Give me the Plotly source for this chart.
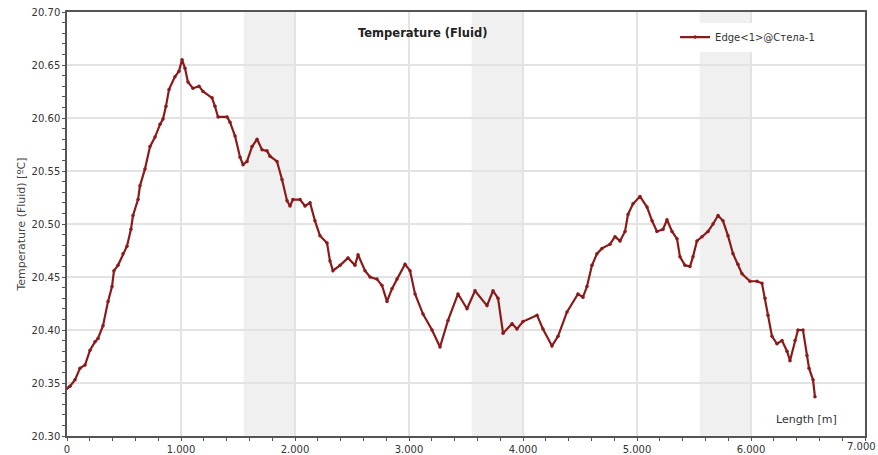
import plotly.graph_objects as go

# Data
length_m = [0.000, 0.026, 0.070, 0.114, 0.158, 0.202, 0.246, 0.272, 0.316, 0.360,
            0.395, 0.412, 0.447, 0.491, 0.526, 0.561, 0.579, 0.623, 0.640, 0.684,
            0.728, 0.772, 0.816, 0.842, 0.868, 0.895, 0.947, 0.982, 1.009, 1.035,
            1.061, 1.105, 1.158, 1.193, 1.272, 1.298, 1.325, 1.404, 1.430, 1.474,
            1.518, 1.544, 1.579, 1.623, 1.667, 1.711, 1.754, 1.781, 1.842, 1.886,
            1.930, 1.956, 1.982, 2.044, 2.088, 2.132, 2.175, 2.219, 2.281, 2.307,
            2.333, 2.395, 2.465, 2.526, 2.553, 2.614, 2.658, 2.719, 2.763, 2.807,
            2.851, 2.895, 2.965, 3.009, 3.053, 3.123, 3.202, 3.272, 3.342, 3.430,
            3.509, 3.579, 3.684, 3.737, 3.781, 3.825, 3.904, 3.947, 4.000, 4.123,
            4.175, 4.254, 4.307, 4.386, 4.482, 4.526, 4.561, 4.605, 4.649, 4.693,
            4.763, 4.807, 4.851, 4.895, 4.921, 4.965, 5.026, 5.088, 5.132, 5.175,
            5.228, 5.263, 5.307, 5.351, 5.377, 5.421, 5.465, 5.491, 5.526, 5.570,
            5.623, 5.667, 5.711, 5.754, 5.798, 5.842, 5.886, 5.921, 5.991, 6.053,
            6.096, 6.123, 6.149, 6.184, 6.228, 6.272, 6.316, 6.342, 6.386, 6.412,
            6.456, 6.491, 6.509, 6.544, 6.561]

temperature_c = [20.345, 20.347, 20.353, 20.364, 20.367, 20.381, 20.389, 20.392, 20.404, 20.427,
                 20.441, 20.456, 20.461, 20.472, 20.479, 20.495, 20.508, 20.523, 20.536, 20.552,
                 20.573, 20.582, 20.594, 20.599, 20.611, 20.627, 20.639, 20.644, 20.655, 20.647,
                 20.634, 20.628, 20.630, 20.625, 20.619, 20.611, 20.601, 20.601, 20.596, 20.583,
                 20.563, 20.556, 20.559, 20.573, 20.580, 20.570, 20.569, 20.564, 20.559, 20.542,
                 20.522, 20.517, 20.523, 20.523, 20.517, 20.520, 20.503, 20.489, 20.482, 20.465,
                 20.456, 20.461, 20.468, 20.461, 20.471, 20.456, 20.450, 20.448, 20.442, 20.427,
                 20.439, 20.448, 20.462, 20.456, 20.434, 20.415, 20.400, 20.384, 20.409, 20.434,
                 20.420, 20.437, 20.423, 20.437, 20.430, 20.397, 20.406, 20.401, 20.408, 20.414,
                 20.401, 20.385, 20.394, 20.417, 20.434, 20.431, 20.441, 20.461, 20.472, 20.477,
                 20.481, 20.488, 20.484, 20.493, 20.509, 20.519, 20.526, 20.516, 20.503, 20.493,
                 20.495, 20.504, 20.493, 20.486, 20.469, 20.461, 20.460, 20.469, 20.484, 20.488,
                 20.493, 20.500, 20.508, 20.503, 20.489, 20.472, 20.462, 20.453, 20.446, 20.446,
                 20.444, 20.430, 20.414, 20.394, 20.387, 20.390, 20.380, 20.371, 20.390, 20.400,
                 20.400, 20.376, 20.364, 20.353, 20.337]

band_starts = [1.55, 3.55, 5.55]
band_ends = [2.0, 4.0, 6.0]

x_tickvals = [0, 1, 2, 3, 4, 5, 6, 7]
x_ticktext = ["0", "1.000", "2.000", "3.000", "4.000", "5.000", "6.000", "7.000"]
y_tickvals = [20.30, 20.35, 20.40, 20.45, 20.50, 20.55, 20.60, 20.65, 20.70]
y_ticktext = ["20.30", "20.35", "20.40", "20.45", "20.50", "20.55", "20.60", "20.65", "20.70"]

series_name = "Edge<1>@Стела-1"
chart_title = "Temperature (Fluid)"
y_title = "Temperature (Fluid) [ºC]"
x_title = "Length [m]"

line_color = "#8b1a1a"
font_family = "DejaVu Sans"

fig = go.Figure()
fig.add_trace(go.Scatter(
    x=length_m, y=temperature_c, mode="lines+markers", name=series_name,
    line=dict(color=line_color, width=2.2),
    marker=dict(color=line_color, size=3.5),
))

for s, e in zip(band_starts, band_ends):
    fig.add_vrect(x0=s, x1=e, fillcolor="#f0f0f0", opacity=1, line_width=0, layer="below")

axis_common = dict(
    showline=True, linecolor="#555555", linewidth=1.5, mirror=True,
    ticks="outside", ticklen=3, tickcolor="#555555",
    gridcolor="#e3e3e3", gridwidth=1.5, zeroline=False, automargin=False,
    tickfont=dict(family=font_family, size=10, color="#333333"),
)

# last x label drawn as annotation so it stays inside the page (right-aligned)
x_ticktext_axis = x_ticktext[:-1] + [""]

fig.update_layout(
    width=878, height=455,
    margin=dict(l=67, r=13, t=12, b=19, autoexpand=False),
    paper_bgcolor="white", plot_bgcolor="white",
    font=dict(family=font_family, color="#333333"),
    showlegend=True,
    legend=dict(x=0.762, y=0.975, xanchor="left", yanchor="top",
                bgcolor="white", font=dict(size=10, color="#333333"),
                itemwidth=30),
    xaxis=dict(range=[0, 7], tickvals=x_tickvals, ticktext=x_ticktext_axis,
               minor=dict(dtick=0.2, ticks="outside", ticklen=3, tickcolor="#555555", showgrid=False),
               **axis_common),
    yaxis=dict(range=[20.30, 20.70], tickvals=y_tickvals, ticktext=y_ticktext,
               title=dict(text=y_title, font=dict(size=11, color="#444444"), standoff=4),
               minor=dict(dtick=0.01, ticks="outside", ticklen=3, tickcolor="#555555", showgrid=False),
               **axis_common),
    annotations=[
        dict(text="<b>" + chart_title + "</b>", xref="paper", yref="paper", x=0.445, y=0.95,
             xanchor="center", yanchor="middle", showarrow=False,
             font=dict(size=11.5, color="#222222", family=font_family)),
        dict(text=x_title, xref="paper", yref="paper", x=0.968, y=0.04,
             xanchor="right", yanchor="middle", showarrow=False,
             font=dict(size=11, color="#333333", family=font_family)),
        dict(text=x_ticktext[-1], xref="x", yref="paper", x=x_tickvals[-1], y=0,
             xanchor="right", yanchor="top", xshift=13, yshift=-3, showarrow=False,
             font=dict(size=10, color="#333333", family=font_family)),
    ],
)

fig.write_html("out.html", config={"displayModeBar": False},
               post_script="document.body.style.margin='0';document.body.style.overflow='hidden';")
